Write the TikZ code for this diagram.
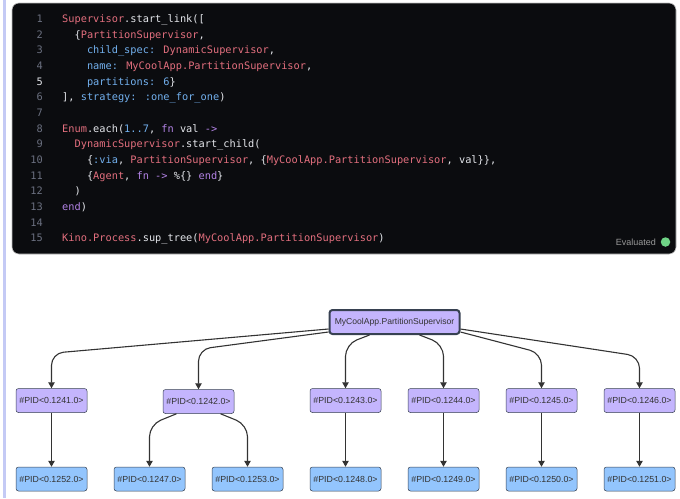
\documentclass[tikz,border=0pt]{standalone}
\usepackage{fontspec}
\usepackage{tikz}
\usetikzlibrary{positioning,arrows.meta,calc}
\newfontfamily\codefont{DejaVu Sans Mono}
\newfontfamily\labelfont{Liberation Sans}
\definecolor{lbcode}{HTML}{0B0C0F}
\definecolor{lbpink}{HTML}{E36F7E}
\definecolor{lbblue}{HTML}{72B0EE}
\definecolor{lbviolet}{HTML}{B383E6}
\definecolor{lbtext}{HTML}{E4E6EB}
\definecolor{lbnum}{HTML}{6B7080}
\definecolor{lbbar}{HTML}{C4CAF5}
\definecolor{lbgreen}{HTML}{6FD486}
\definecolor{kpsup}{HTML}{C4B5FD}
\definecolor{kpwork}{HTML}{93C5FD}
\definecolor{kpstroke}{HTML}{374151}
\definecolor{kpedge}{HTML}{333333}
\newcommand{\cmod}[1]{\textcolor{lbpink}{#1}}
\newcommand{\catom}[1]{\textcolor{lbblue}{#1}}
\newcommand{\ckey}[1]{\textcolor{lbviolet}{#1}}
\tikzset{
  codeln/.style={anchor=base west,inner sep=0pt,text=lbtext,font=\codefont\fontsize{10.3}{12}\selectfont},
  lineno/.style={anchor=base east,inner sep=0pt,text=lbnum,font=\codefont\fontsize{10.3}{12}\selectfont},
  proc/.style={draw=kpstroke,line width=0.5pt,rounded corners=2.5pt,minimum width=71pt,minimum height=24pt,inner sep=2pt,font=\labelfont\fontsize{8.8}{10}\selectfont,text=kpedge},
  sup/.style={proc,fill=kpsup},
  worker/.style={proc,fill=kpwork},
  rootsup/.style={proc,fill=kpsup,line width=2pt,minimum width=130pt,rounded corners=3pt,font=\labelfont\fontsize{8.6}{10}\selectfont},
  lnk/.style={-{Triangle[length=6pt,width=6.5pt]},line width=1.1pt,draw=kpedge,rounded corners=12pt},
}
\begin{document}
\begin{tikzpicture}[x=1pt,y=1pt,node distance=54pt and 26.5pt]
  \useasboundingbox (0,0) rectangle (680,-498);
  \fill[lbbar] (3,0) rectangle (6,-498);
  % code cell
  \draw[fill=lbcode,draw=black!25,line width=0.6pt,rounded corners=7pt] (12,-3) rectangle (676,-254);
  \foreach \i in {1,2,3,4,6,7,8,9,10,11,12,13,14,15}
    \node[lineno] (n\i) at (43,{-22.7-(\i-1)*15.64}) {\i};
  \node[lineno,text=lbtext] (n5) at (43,-85.26) {5};
  \node[codeln] (l1) at (62,-22.7) {\cmod{Supervisor}.start\_link([};
  \node[codeln] (l2) at (74.4,-38.34) {\{\cmod{PartitionSupervisor},};
  \node[codeln] (l3) at (86.8,-53.98) {\catom{child\_spec:} \cmod{DynamicSupervisor},};
  \node[codeln] (l4) at (86.8,-69.62) {\catom{name:} \cmod{MyCoolApp.PartitionSupervisor},};
  \node[codeln] (l5) at (86.8,-85.26) {\catom{partitions:} \catom{6}\}};
  \node[codeln] (l6) at (62,-100.9) {], \catom{strategy:} \catom{:one\_for\_one})};
  \node[codeln] (l8) at (62,-132.18) {\cmod{Enum}.each(\catom{1..7}, \ckey{fn} val \ckey{->}};
  \node[codeln] (l9) at (74.4,-147.82) {\cmod{DynamicSupervisor}.start\_child(};
  \node[codeln] (l10) at (86.8,-163.46) {\{\catom{:via}, \cmod{PartitionSupervisor}, \{\cmod{MyCoolApp.PartitionSupervisor}, val\}\},};
  \node[codeln] (l11) at (86.8,-179.1) {\{\cmod{Agent}, \ckey{fn} \ckey{->} \%\{\} \ckey{end}\}};
  \node[codeln] (l12) at (74.4,-194.74) {)};
  \node[codeln] (l13) at (62,-210.38) {\ckey{end})};
  \node[codeln] (l15) at (62,-241.66) {\cmod{Kino.Process}.sup\_tree(\cmod{MyCoolApp.PartitionSupervisor})};
  \node[anchor=east,inner sep=0pt,text=black!40,font=\labelfont\fontsize{9}{10}\selectfont] (evaltxt) at (656,-242) {Evaluated};
  \node[circle,fill=lbgreen,minimum size=9.5pt,inner sep=0pt] (evaldot) at (665.5,-242) {};
  % supervision tree
  \node[worker] (p1252) at (51.5,-479) {\#PID<0.1252.0>};
  \node[worker,right=of p1252] (p1247) {\#PID<0.1247.0>};
  \node[worker,right=of p1247] (p1253) {\#PID<0.1253.0>};
  \node[worker,right=of p1253] (p1248) {\#PID<0.1248.0>};
  \node[worker,right=of p1248] (p1249) {\#PID<0.1249.0>};
  \node[worker,right=of p1249] (p1250) {\#PID<0.1250.0>};
  \node[worker,right=of p1250] (p1251) {\#PID<0.1251.0>};
  \node[sup,above=of p1252] (p1241) {\#PID<0.1241.0>};
  \node[sup] (p1242) at ($(p1247)!0.5!(p1253)+(0,77.5)$) {\#PID<0.1242.0>};
  \node[sup,above=of p1248] (p1243) {\#PID<0.1243.0>};
  \node[sup,above=of p1249] (p1244) {\#PID<0.1244.0>};
  \node[sup,above=of p1250] (p1245) {\#PID<0.1245.0>};
  \node[sup,above=of p1251] (p1246) {\#PID<0.1246.0>};
  \node[rootsup] (root) at ($(p1243)!0.5!(p1244)+(0,78.5)$) {MyCoolApp.PartitionSupervisor};
  \draw[lnk] ([yshift=6pt]root.south west) -- ($(p1241.north)+(0,35)$) -- (p1241.north);
  \draw[lnk] ([yshift=3pt]root.south west) -- ($(p1242.north)+(0,40)$) -- (p1242.north);
  \draw[lnk] ([xshift=-25pt]root.south) -- ($(p1243.north)+(0,44)$) -- (p1243.north);
  \draw[lnk] ([xshift=25pt]root.south) -- ($(p1244.north)+(0,44)$) -- (p1244.north);
  \draw[lnk] ([yshift=3pt]root.south east) -- ($(p1245.north)+(0,35)$) -- (p1245.north);
  \draw[lnk] ([yshift=6pt]root.south east) -- ($(p1246.north)+(0,32)$) -- (p1246.north);
  \draw[lnk] (p1241) -- (p1252);
  \draw[lnk] ([xshift=-22pt]p1242.south) -- ($(p1247.north)+(0,42)$) -- (p1247.north);
  \draw[lnk] ([xshift=22pt]p1242.south) -- ($(p1253.north)+(0,42)$) -- (p1253.north);
  \draw[lnk] (p1243) -- (p1248);
  \draw[lnk] (p1244) -- (p1249);
  \draw[lnk] (p1245) -- (p1250);
  \draw[lnk] (p1246) -- (p1251);
\end{tikzpicture}
\end{document}
